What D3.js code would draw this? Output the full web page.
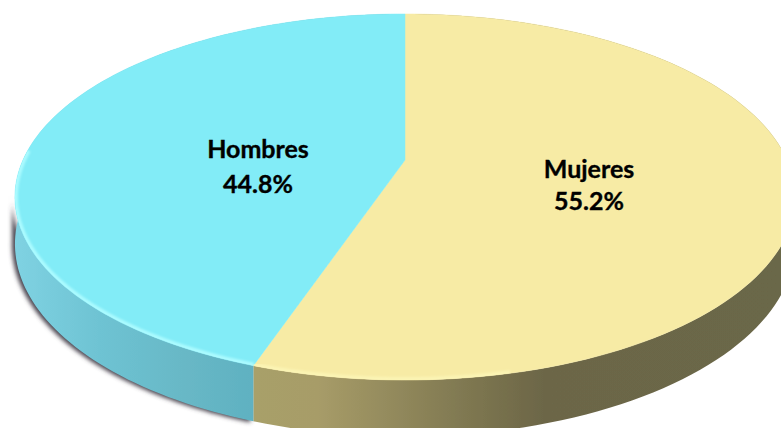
<!DOCTYPE html>
<html>
<head>
<meta charset="utf-8">
<script src="https://cdn.jsdelivr.net/npm/d3@7"></script>
<style>
  html, body { margin: 0; padding: 0; background: #fff; overflow: hidden; }
  svg { display: block; }
  .label { font-family: Lato, "Open Sans", sans-serif; font-weight: 700; font-size: 25px; fill: #000; stroke: #000; stroke-width: 0.35px; text-anchor: middle; }
</style>
</head>
<body>
<div id="chart"></div>
<script>
const categories = ['Mujeres', 'Hombres'];
const shares = [55.2, 44.8];
const topColors = ['#f7eba5', '#82ecf7'];
const rimColors = ['#fbf4b4', '#abfbff'];

const width = 781, height = 428;

// Disc is seen in perspective, so the apex sits above the ellipse centre
const view = {cx: 405, cy: 160, rx: 382, ySlope: 143.2, persp: -0.2022, depth: 45};

const project = (angle, drop) => {
  const u = Math.sin(angle), v = -Math.cos(angle);
  const w = 1 + view.persp * v;
  return [
    view.cx + view.rx * u / w,
    (view.ySlope * v + view.cy) / w + (drop ? view.depth / w : 0)
  ];
};

const arcPoints = (a0, a1, drop) => d3.range(0, 121).map(i => project(a0 + (a1 - a0) * i / 120, drop));
const line = d3.line();

const svg = d3.select('#chart').append('svg')
    .attr('width', width)
    .attr('height', height);

const defs = svg.append('defs');
defs.append('filter').attr('id', 'soft').append('feGaussianBlur').attr('stdDeviation', 0.6);
defs.append('filter').attr('id', 'rimBlur').append('feGaussianBlur').attr('stdDeviation', 1.2);
defs.append('filter').attr('id', 'shadowBlur')
    .attr('x', '-10%').attr('y', '-10%').attr('width', '120%').attr('height', '120%')
  .append('feGaussianBlur').attr('stdDeviation', 2.2);

const wallStops = [
  [[0, '#a8a069'], [0.12, '#a79c68'], [0.4, '#7f7851'], [0.55, '#6c6647'], [1, '#6b6748']],
  [[0, '#7fd2e2'], [0.35, '#6ec3d3'], [0.7, '#68b8c6'], [1, '#5fb1c1']]
];
const wallRange = [[255, 781], [15, 255]];

wallStops.forEach((stops, i) => {
  const grad = defs.append('linearGradient')
      .attr('id', `wall-${i}`)
      .attr('gradientUnits', 'userSpaceOnUse')
      .attr('x1', wallRange[i][0]).attr('x2', wallRange[i][1])
      .attr('y1', 0).attr('y2', 0);
  grad.selectAll('stop')
      .data(stops)
    .join('stop')
      .attr('offset', d => d[0])
      .attr('stop-color', d => d[1]);
});

const pie = d3.pie().sort(null)(shares);

const wallPath = (a0, a1) => line(arcPoints(a0, a1, false).concat(arcPoints(a0, a1, true).reverse())) + 'Z';
const topPath = d => line([[view.cx, view.cy]].concat(arcPoints(d.startAngle, d.endAngle, false))) + 'Z';

defs.append('clipPath').attr('id', 'topClip')
  .append('path')
    .attr('d', line(arcPoints(0, 2 * Math.PI, false)) + 'Z');

// Soft shadow behind the lower left of the wall only
svg.append('path')
    .attr('d', wallPath(pie[1].startAngle, 1.44 * Math.PI))
    .attr('fill', '#4a4450')
    .attr('transform', 'translate(-3,1)')
    .attr('filter', 'url(#shadowBlur)');

const disc = svg.append('g').attr('filter', 'url(#soft)');

disc.selectAll('.wall')
    .data(pie)
  .join('path')
    .attr('class', 'wall')
    .attr('d', d => wallPath(d.startAngle, d.endAngle))
    .attr('fill', (d, i) => `url(#wall-${i})`);

disc.selectAll('.slice')
    .data(pie)
  .join('path')
    .attr('class', 'slice')
    .attr('d', topPath)
    .attr('fill', (d, i) => topColors[i])
    .attr('stroke', (d, i) => topColors[i])
    .attr('stroke-width', 0.5);

// Light bevel along the front rim of the disc
svg.append('g')
    .attr('clip-path', 'url(#topClip)')
  .selectAll('.rim')
  .data(pie)
  .join('path')
    .attr('class', 'rim')
    .attr('d', d => line(d.index === 0
      ? arcPoints(d.endAngle - 0.55, d.endAngle, false)
      : arcPoints(d.startAngle, d.startAngle + 1.3, false)))
    .attr('fill', 'none')
    .attr('stroke', (d, i) => rimColors[i])
    .attr('stroke-width', 6)
    .attr('filter', 'url(#rimBlur)');

const labelPos = [[589, 178, 210], [258, 158, 193]];

categories.forEach((name, i) => {
  svg.append('text').attr('class', 'label')
      .attr('x', labelPos[i][0]).attr('y', labelPos[i][1]).text(name);
  svg.append('text').attr('class', 'label')
      .attr('x', labelPos[i][0]).attr('y', labelPos[i][2]).text(`${shares[i]}%`);
});
</script>
</body>
</html>
